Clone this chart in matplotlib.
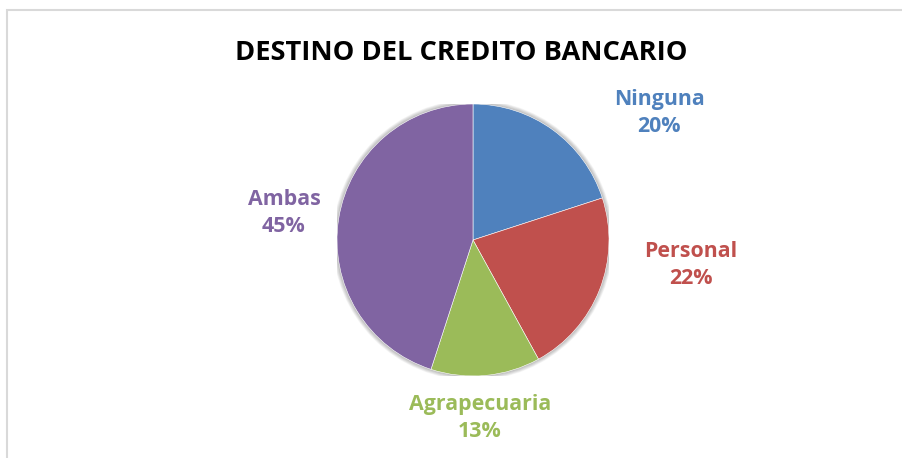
import matplotlib.pyplot as plt
from matplotlib.patches import Circle, Rectangle

categorias = ["Ninguna", "Personal", "Agrapecuaria", "Ambas"]
porcentajes = [20, 22, 13, 45]
colores = ["#4F81BD", "#C0504D", "#9BBB59", "#8064A2"]

# label centres in pixels (x, y from top)
pos_etiquetas = [(659, 113), (691, 265), (480, 418), (284, 213)]

W, H = 902, 458
fig = plt.figure(figsize=(W / 100, H / 100), dpi=100)
fig.patch.set_facecolor("white")

# chart area border (only left and top edges are inside the picture)
fig.add_artist(Rectangle((7 / W, -0.1), 1.2, (H - 10) / H + 0.1, transform=fig.transFigure,
                         fill=False, edgecolor="#d9d9d9", linewidth=1.5))

cx, cy, r = 473, 240, 136
ax = fig.add_axes([(cx - r) / W, (H - cy - r) / H, 2 * r / W, 2 * r / H])
ax.set_xlim(-1, 1)
ax.set_ylim(-1, 1)
ax.axis("off")

# soft shadow around the pie
for k in range(8):
    ax.add_patch(Circle((0, 0), 1.0 + 0.004 * (k + 1), color="black",
                        alpha=0.035, linewidth=0, zorder=0))

ax.pie(porcentajes, colors=colores, startangle=90, counterclock=False, radius=1,
       wedgeprops=dict(edgecolor="white", linewidth=0.4))
ax.set_xlim(-1, 1)
ax.set_ylim(-1, 1)

fig.text(461 / W, 1 - 53 / H, "DESTINO DEL CREDITO BANCARIO", ha="center", va="center",
         fontsize=19.6, fontweight="bold", family="Open Sans", color="black")

for nombre, valor, color, (px, py) in zip(categorias, porcentajes, colores, pos_etiquetas):
    fig.text(px / W, 1 - py / H, f"{nombre}\n{valor}%", ha="center", va="center",
             fontsize=15.4, fontweight="bold", family="Open Sans", color=color, linespacing=1.38)

fig.savefig("out.png", dpi=100)
